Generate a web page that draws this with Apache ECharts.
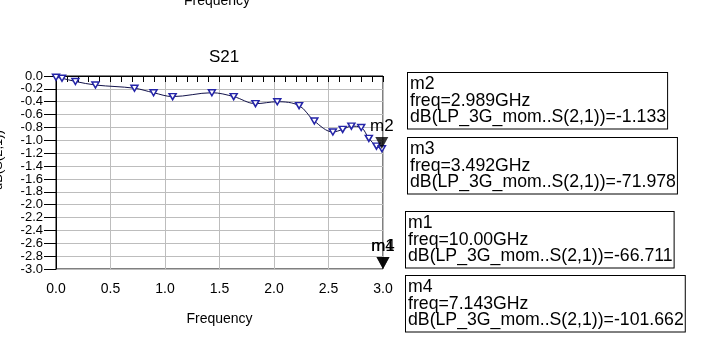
<!DOCTYPE html>
<html><head><meta charset="utf-8">
<script src="https://cdn.jsdelivr.net/npm/echarts@6/dist/echarts.min.js"></script>
<style>html,body{margin:0;padding:0;background:#fff}#c{width:711px;height:347px}</style>
</head><body><div id="c"></div>
<script>
// S21 trace (frequency in GHz, dB)
const freqGHz = [0, 0.055, 0.178, 0.362, 0.72, 0.895, 1.07, 1.43, 1.63, 1.83, 2.03, 2.23, 2.37, 2.54, 2.63, 2.71, 2.80, 2.87, 2.94, 2.99];
const s21dB   = [-0.02, -0.035, -0.085, -0.14, -0.19, -0.26, -0.32, -0.26, -0.32, -0.43, -0.40, -0.46, -0.70, -0.87, -0.83, -0.78, -0.80, -0.97, -1.09, -1.13];
// markers
const markerNames = ['m2', 'm3', 'm1', 'm4'];
const markerFreqText = ['2.989GHz', '3.492GHz', '10.00GHz', '7.143GHz'];
const markerFreq = [2.989, 3.492, 10.00, 7.143];
const markerValue = [-1.133, -71.978, -66.711, -101.662];
const markerValueText = ['-1.133', '-71.978', '-66.711', '-101.662'];
const plottedMarkers = ['m2', 'm1', 'm4'];
const xMin = 0, xMax = 3, yMin = -3, yMax = 0;

const FONT = '"Liberation Sans", Arial, sans-serif';
const chart = echarts.init(document.getElementById('c'));

const curve = freqGHz.map((f, i) => [f, s21dB[i]]);
const mk = plottedMarkers.map(n => {
  const i = markerNames.indexOf(n);
  const x = Math.min(Math.max(markerFreq[i], xMin), xMax);
  const y = Math.min(Math.max(markerValue[i], yMin), yMax);
  return { name: n, value: [x, y] };
});

const boxTop = [72, 137, 211, 275];
const boxLeft = [407, 407, 405, 405];
const graphics = markerNames.map((n, i) => ({
  type: 'text', left: boxLeft[i], top: boxTop[i], z: 10,
  style: {
    text: n + '\nfreq=' + markerFreqText[i] + '\ndB(LP_3G_mom..S(2,1))=' + markerValueText[i],
    font: '17.7px ' + FONT, fill: '#000', lineHeight: 16.5,
    backgroundColor: '#fff', borderColor: '#000', borderWidth: 1,
    padding: [3, 1, 3, 2]
  }
}));
graphics.push({
  type: 'text', x: 217, y: 8,
  style: { text: 'Frequency', font: '14px ' + FONT, fill: '#000', align: 'center', verticalAlign: 'bottom' }
});
graphics.push({
  type: 'text', x: -2, y: 160, rotation: Math.PI / 2,
  style: { text: 'dB(S(2,1))', font: '13px ' + FONT, fill: '#000', align: 'center', verticalAlign: 'middle' }
});

chart.setOption({
  animation: false,
  backgroundColor: '#fff',
  title: {
    text: 'S21', left: 219, top: 44, textAlign: 'center',
    textStyle: { fontFamily: FONT, fontSize: 17, fontWeight: 'normal', color: '#000' }
  },
  grid: { left: 56, right: 328, top: 76, bottom: 78, show: true, borderColor: '#000', borderWidth: 1, backgroundColor: '#fff' },
  xAxis: {
    type: 'value', min: xMin, max: xMax, interval: 0.5,
    name: 'Frequency', nameLocation: 'middle', nameGap: 43,
    nameTextStyle: { fontFamily: FONT, fontSize: 14, color: '#000' },
    axisLine: { lineStyle: { color: '#000', width: 1 } },
    axisTick: { show: true, length: 6, lineStyle: { color: '#000' } },
    minorTick: { show: true, splitNumber: 5, length: 6, lineStyle: { color: '#000' } },
    axisLabel: { margin: 13, fontFamily: FONT, fontSize: 14, color: '#000', formatter: v => v.toFixed(1) },
    splitLine: { show: true, lineStyle: { color: '#bdbdbd', width: 1 } }
  },
  yAxis: {
    type: 'value', min: yMin, max: yMax, interval: 0.2,
    axisLine: { show: true, lineStyle: { color: '#000', width: 1 } },
    axisTick: { show: true, length: 12, lineStyle: { color: '#000' } },
    axisLabel: { margin: 13, fontFamily: FONT, fontSize: 13, color: '#000', formatter: v => (Math.abs(v) < 1e-9 ? 0 : v).toFixed(1) },
    splitLine: { show: true, lineStyle: { color: '#bdbdbd', width: 1 } }
  },
  series: [
    {
      type: 'line', data: curve, smooth: 0.35,
      lineStyle: { color: '#12124a', width: 1 },
      symbol: 'triangle', symbolRotate: 180, symbolSize: [7, 6],
      itemStyle: { color: '#fff', borderColor: '#2424a8', borderWidth: 1.5 },
      z: 3
    },
    {
      type: 'scatter', data: mk, clip: false,
      symbol: 'path://M0,0 L14,0 L7,13 Z', symbolSize: [13, 12], symbolOffset: [0, '-50%'],
      itemStyle: { color: '#000' },
      label: { show: true, position: 'top', distance: 2, formatter: p => p.name, fontFamily: FONT, fontSize: 17, color: '#000', opacity: 1 },
      emphasis: { disabled: true },
      z: 5
    }
  ],
  graphic: graphics
});
</script></body></html>
